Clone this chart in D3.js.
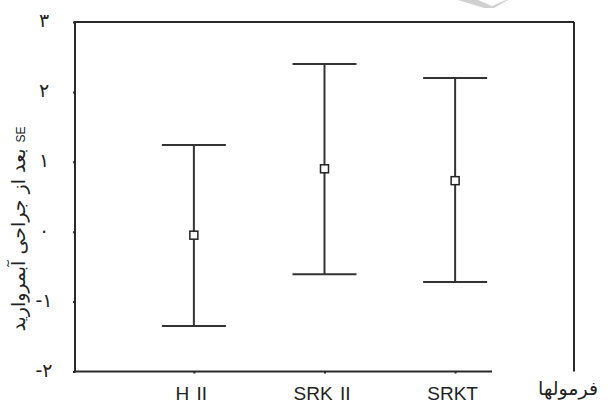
<!DOCTYPE html>
<html>
<head>
<meta charset="utf-8">
<script src="https://cdn.jsdelivr.net/npm/d3@7"></script>
<style>
  html, body { margin: 0; padding: 0; background: #fff; }
  svg { display: block; }
</style>
</head>
<body>
<svg id="chart" width="616" height="405"></svg>
<script>
// Cataract surgery SE by formula: mean with error bars
const formulas = ["H II", "SRK II", "SRKT"];
const means = [-0.05, 0.90, 0.73];
const upper = [1.24, 2.40, 2.20];
const lower = [-1.35, -0.61, -0.72];
const yTicks = [-2, -1, 0, 1, 2, 3];

const svg = d3.select("#chart");
const plotLeft = 75, plotRight = 574, plotTop = 22, plotBottom = 371.5;
const ink = "#2a2a2a";

const x = d3.scalePoint().domain(formulas).range([plotLeft, plotRight]).padding(0.91);
const y = d3.scaleLinear().domain([-2, 3]).range([plotBottom, plotTop]);

const faDigits = s => String(s).replace(/\d/g, d => "۰۱۲۳۴۵۶۷۸۹"[+d]);

// faint mark at the top edge
svg.append("path")
  .attr("d", "M458,0 L478,0 L492,6 L506,0 L508,0 L494,8 L484,8 Z")
  .attr("fill", "#d0d0d0");

// frame
const frame = svg.append("g").attr("stroke", ink).attr("stroke-width", 2).attr("fill", "none");
frame.append("line").attr("x1", plotLeft).attr("x2", plotRight).attr("y1", plotTop).attr("y2", plotTop);
frame.append("line").attr("x1", plotRight).attr("x2", plotRight).attr("y1", plotTop).attr("y2", plotBottom);

// y axis
const yAxis = svg.append("g")
  .attr("transform", `translate(${plotLeft},0)`)
  .call(d3.axisLeft(y).tickValues(yTicks).tickSize(2).tickPadding(29).tickFormat(faDigits));
yAxis.select(".domain").attr("stroke", ink).attr("stroke-width", 2).attr("d", `M0,${plotTop - 1}V${plotBottom + 1}`);
yAxis.selectAll(".tick line").attr("stroke", ink).attr("stroke-width", 2);
yAxis.selectAll(".tick text")
  .attr("font-family", "'DejaVu Sans', sans-serif")
  .attr("font-size", 19)
  .attr("fill", "#222")
  .attr("text-anchor", "middle")
  .attr("dy", "0.25em");

// x axis
const xAxis = svg.append("g")
  .attr("transform", `translate(0,${plotBottom})`)
  .call(d3.axisBottom(x).tickSize(2).tickPadding(8));
xAxis.select(".domain").attr("stroke", ink).attr("stroke-width", 2).attr("d", `M${plotLeft - 1},0H492`);
xAxis.selectAll(".tick line").attr("stroke", ink).attr("stroke-width", 2);
xAxis.selectAll(".tick text")
  .attr("font-family", "'Liberation Sans', Arial, sans-serif")
  .attr("font-size", 19)
  .attr("word-spacing", 2)
  .attr("fill", "#222")
  .attr("dx", -3)
  .attr("dy", "0.95em");

// error bars
const bars = svg.append("g").attr("stroke", "#333").attr("stroke-width", 2);
const capHalf = 32;
formulas.forEach((f, i) => {
  const cx = x(f);
  bars.append("line").attr("x1", cx).attr("x2", cx).attr("y1", y(upper[i])).attr("y2", y(lower[i]));
  bars.append("line").attr("x1", cx - capHalf).attr("x2", cx + capHalf).attr("y1", y(upper[i])).attr("y2", y(upper[i]));
  bars.append("line").attr("x1", cx - capHalf).attr("x2", cx + capHalf).attr("y1", y(lower[i])).attr("y2", y(lower[i]));
});

// mean markers
svg.append("g").selectAll("rect")
  .data(formulas)
  .join("rect")
  .attr("x", d => x(d) - 4)
  .attr("y", (d, i) => y(means[i]) - 4)
  .attr("width", 8)
  .attr("height", 8)
  .attr("fill", "#fff")
  .attr("stroke", "#222")
  .attr("stroke-width", 1.5);

// axis titles
svg.append("text")
  .attr("transform", "translate(25,229) rotate(-90)")
  .attr("text-anchor", "middle")
  .attr("font-family", "'DejaVu Sans', 'Noto Sans', sans-serif")
  .attr("font-size", 19)
  .attr("fill", "#222")
  .html('بعد از جراحی آبمروارید <tspan font-size="12" font-family="Liberation Sans, Arial, sans-serif">SE</tspan>');

svg.append("text")
  .attr("x", 598)
  .attr("y", 395)
  .attr("text-anchor", "end")
  .attr("font-family", "'DejaVu Sans', 'Noto Sans', sans-serif")
  .attr("font-size", 19)
  .attr("fill", "#222")
  .text("فرمولها");
</script>
</body>
</html>
